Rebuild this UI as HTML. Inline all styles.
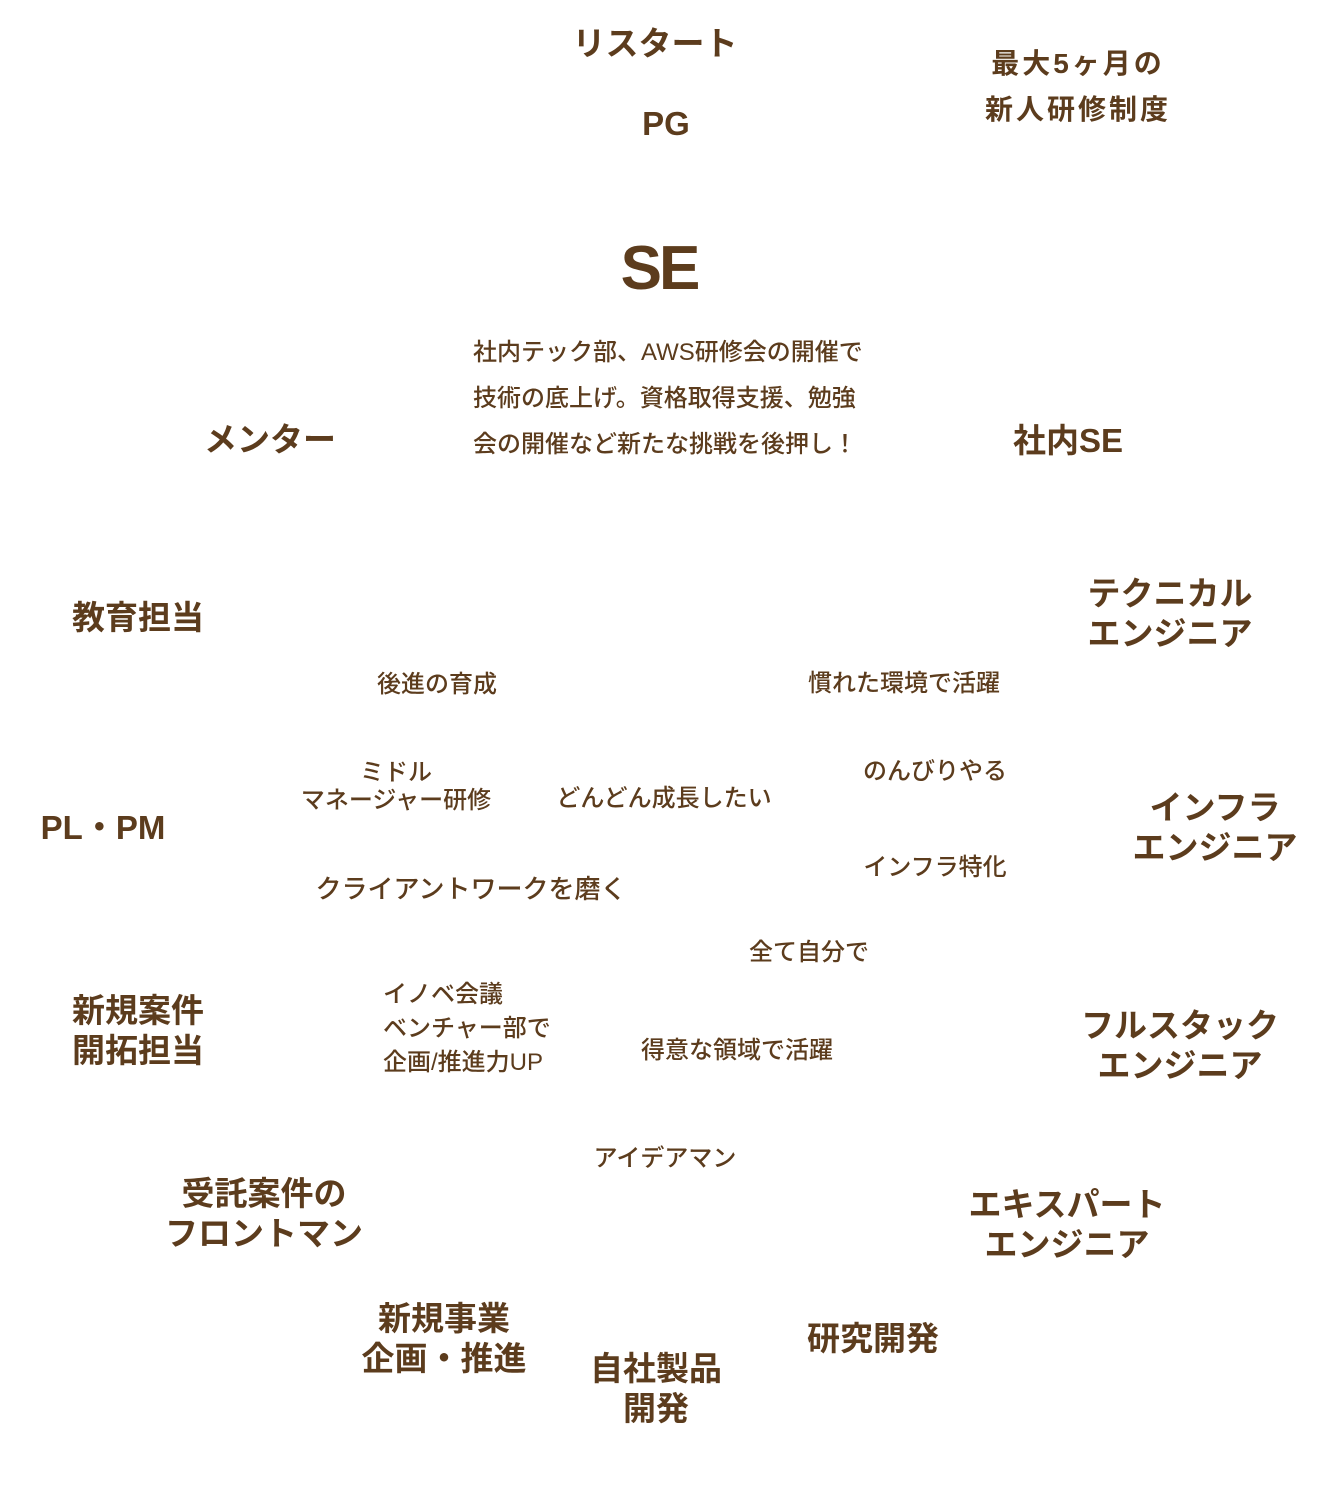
<!DOCTYPE html>
<html lang="ja">
<head>
<meta charset="utf-8">
<style>
  html, body {
    margin: 0;
    padding: 0;
    background: #ffffff;
  }
  body {
    width: 1330px;
    height: 1498px;
    position: relative;
    overflow: hidden;
    color: #5c3c1d;
    font-family: "Liberation Sans", "Noto Sans CJK JP", sans-serif;
  }
  .t {
    position: absolute;
    transform: translate(-50%, -50%);
    white-space: nowrap;
    text-align: center;
  }
  .big {
    font-size: 33px;
    font-weight: 700;
    line-height: 40px;
  }
  .sm {
    font-size: 24px;
    font-weight: 500;
    line-height: 28px;
  }
  .desc {
    position: absolute;
    left: 473px;
    top: 330px;
    font-size: 24px;
    font-weight: 500;
    line-height: 46px;
    white-space: nowrap;
  }
  .lft {
    position: absolute;
    white-space: nowrap;
    font-size: 24px;
    font-weight: 500;
    line-height: 34px;
  }
</style>
</head>
<body>

<!-- Top -->
<div class="t big" style="left:655px; top:44px;">リスタート</div>
<div class="t big" style="left:666px; top:124px;">PG</div>
<div class="t" style="left:1078px; top:87px; font-size:28px; font-weight:700; line-height:46px; letter-spacing:3px;">最大5ヶ月の<br>新人研修制度</div>

<div class="t" style="left:659px; top:269px; font-size:62px; font-weight:700; line-height:62px; letter-spacing:-3px;">SE</div>

<div class="desc">社内テック部、AWS研修会の開催で<br>技術の底上げ。資格取得支援、勉強<br>会の開催など新たな挑戦を後押し！</div>

<div class="t big" style="left:270px; top:440px;">メンター</div>
<div class="t big" style="left:1068px; top:441px;">社内SE</div>

<!-- Left column -->
<div class="t big" style="left:138px; top:618px;">教育担当</div>
<div class="t big" style="left:103px; top:828px;">PL・PM</div>
<div class="t big" style="left:138px; top:1031px;">新規案件<br>開拓担当</div>
<div class="t big" style="left:264px; top:1214px;">受託案件の<br>フロントマン</div>
<div class="t big" style="left:444px; top:1339px;">新規事業<br>企画・推進</div>
<div class="t big" style="left:656px; top:1389px;">自社製品<br>開発</div>
<div class="t big" style="left:873px; top:1339px;">研究開発</div>

<!-- Right column -->
<div class="t big" style="left:1170px; top:614px;">テクニカル<br>エンジニア</div>
<div class="t big" style="left:1215px; top:828px;">インフラ<br>エンジニア</div>
<div class="t big" style="left:1180px; top:1046px;">フルスタック<br>エンジニア</div>
<div class="t big" style="left:1067px; top:1225px;">エキスパート<br>エンジニア</div>

<!-- Small labels -->
<div class="t sm" style="left:437px; top:685px;">後進の育成</div>
<div class="t sm" style="left:904px; top:684px;">慣れた環境で活躍</div>
<div class="t sm" style="left:396px; top:787px;">ミドル<br>マネージャー研修</div>
<div class="t sm" style="left:664px; top:799px;">どんどん成長したい</div>
<div class="t sm" style="left:935px; top:772px;">のんびりやる</div>
<div class="t sm" style="left:935px; top:868px;">インフラ特化</div>
<div class="t sm" style="left:471px; top:889px; font-size:26px;">クライアントワークを磨く</div>
<div class="t sm" style="left:809px; top:953px;">全て自分で</div>

<div class="lft" style="left:383px; top:978px;">イノベ会議<br>ベンチャー部で<br>企画/推進力UP</div>

<div class="t sm" style="left:737px; top:1051px;">得意な領域で活躍</div>
<div class="t sm" style="left:665px; top:1159px;">アイデアマン</div>

</body>
</html>
